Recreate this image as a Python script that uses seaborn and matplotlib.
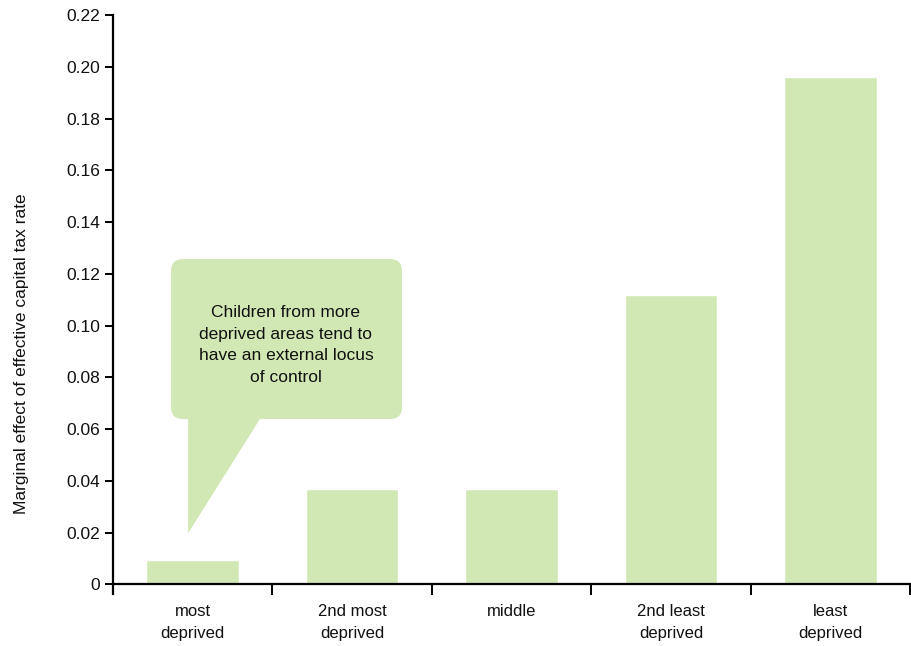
import matplotlib
matplotlib.use("Agg")
import matplotlib.pyplot as plt
from matplotlib.patches import FancyBboxPatch, Polygon
import seaborn as sns
import pandas as pd

# Area deprivation quintiles and their marginal effects
categories = ["most\ndeprived", "2nd most\ndeprived", "middle", "2nd least\ndeprived", "least\ndeprived"]
effects = [0.0095, 0.037, 0.037, 0.112, 0.196]
y_ticks = [0, 0.02, 0.04, 0.06, 0.08, 0.10, 0.12, 0.14, 0.16, 0.18, 0.20, 0.22]
y_tick_labels = ["0", "0.02", "0.04", "0.06", "0.08", "0.10", "0.12", "0.14", "0.16", "0.18", "0.20", "0.22"]
y_title = "Marginal effect of effective capital tax rate"
callout_text = "Children from more\ndeprived areas tend to\nhave an external locus\nof control"

GREEN = "#d2e8b4"
INK = "#111111"

sns.set_theme(style="white")
plt.rcParams["font.family"] = ["Liberation Sans", "DejaVu Sans"]

fig = plt.figure(figsize=(9.12, 6.46), dpi=100)
ax = fig.add_axes([113 / 912, 1 - 594 / 646, (910 - 113) / 912, (594 - 15) / 646])

df = pd.DataFrame({"area": categories, "effect": effects})
sns.barplot(data=df, x="area", y="effect", color=GREEN, saturation=1,
            width=0.58, ax=ax)

ax.set_xlim(-0.5, len(categories) - 0.5)
ax.set_ylim(-0.0037, 0.22)

# Spines: left axis and a baseline at zero
for side in ("top", "right"):
    ax.spines[side].set_visible(False)
ax.spines["bottom"].set_position(("data", 0))
for side in ("left", "bottom"):
    ax.spines[side].set_color("black")
    ax.spines[side].set_linewidth(1.6)

ax.set_yticks(y_ticks)
ax.set_yticklabels(y_tick_labels)
ax.tick_params(axis="y", direction="out", length=6, width=1.4, color="black",
               pad=3, labelsize=12.5, labelcolor=INK, left=True)

# Category boundaries as major ticks, labels on minor ticks at bar centres
ax.set_xticks([i - 0.5 for i in range(len(categories) + 1)])
ax.set_xticklabels([])
ax.set_xticks(range(len(categories)), minor=True)
ax.set_xticklabels(categories, minor=True)
ax.tick_params(axis="x", which="major", direction="out", length=8, width=1.4,
               color="black", bottom=True)
ax.tick_params(axis="x", which="minor", length=0, pad=14, labelsize=12,
               labelcolor=INK)
for lbl in ax.get_xticklabels(minor=True):
    lbl.set_linespacing(1.6)

ax.set_xlabel("")
ax.set_ylabel("")
fig.text(22 / 912, 1 - 354 / 646, y_title, rotation=90, ha="center",
         va="center", fontsize=12.5, color=INK)

# Speech-bubble callout
x_px = 159.4   # pixels per category unit
y_px = 2588.0  # pixels per data unit
box = FancyBboxPatch((-0.136, 0.0639), 1.449, 0.0618,
                     boxstyle="round,pad=0,rounding_size=0.075",
                     mutation_aspect=x_px / y_px,
                     facecolor=GREEN, edgecolor="none", zorder=3)
ax.add_patch(box)
tail = Polygon([(-0.029, 0.0645), (0.428, 0.0645), (-0.029, 0.0198)],
               closed=True, facecolor=GREEN, edgecolor="none", zorder=3)
ax.add_patch(tail)
ax.text(0.585, 0.0925, callout_text, ha="center", va="center", fontsize=12.5,
        color=INK, linespacing=1.55, zorder=4)

fig.savefig("out.png", dpi=100)
